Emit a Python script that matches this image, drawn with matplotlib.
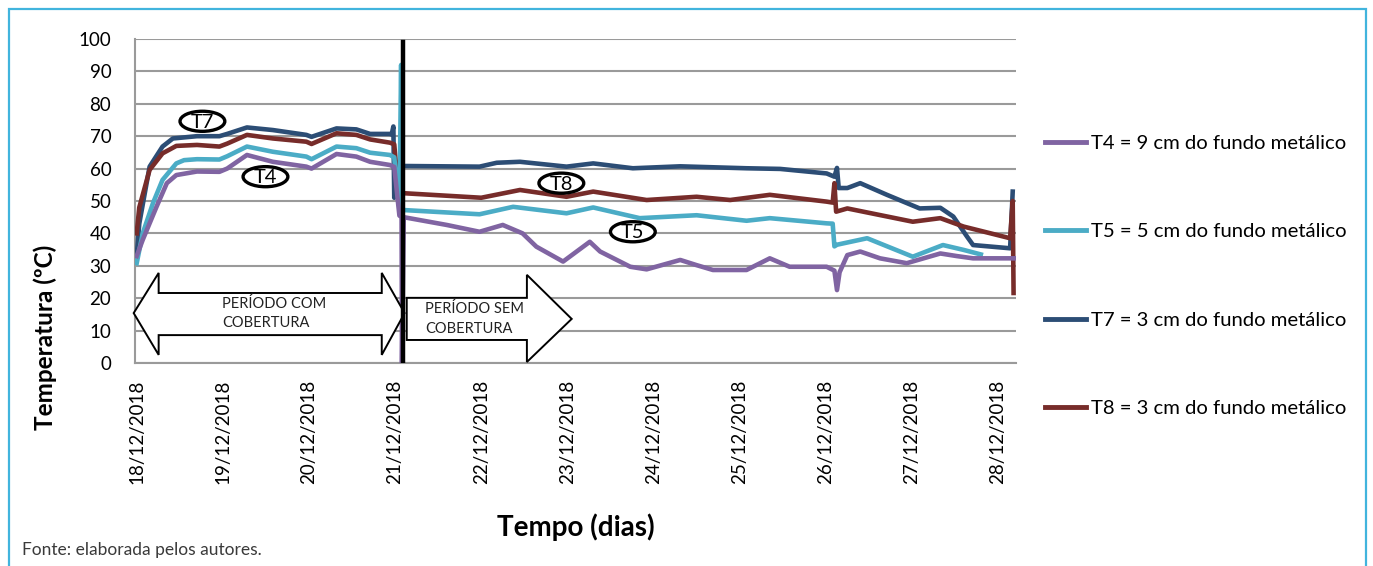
import matplotlib
matplotlib.use("Agg")
import matplotlib.pyplot as plt
from matplotlib.patches import Polygon, Ellipse, Rectangle
from matplotlib.lines import Line2D

plt.rcParams["font.family"] = ["Lato", "DejaVu Sans"]

# time in days of December 2018, values in degC
t4_day = [18.0, 18.07, 18.23, 18.35, 18.46, 18.70, 18.96, 19.05, 19.28, 19.58, 19.97, 20.03,
          20.32, 20.55, 20.71, 20.94, 20.99, 21.05, 21.075, 21.08, 21.10, 21.6, 21.98, 22.25,
          22.48, 22.64, 22.95, 23.26, 23.38, 23.73, 23.92, 24.31, 24.5, 24.69, 25.08, 25.35,
          25.58, 26.01, 26.10, 26.13, 26.16, 26.25, 26.40, 26.63, 26.94, 27.33, 27.52, 27.71, 28.19]
t4_val = [33, 38, 48.2, 55.5, 58, 59.1, 59, 60.0, 64.2, 62.1, 60.6, 60,
          64.5, 63.7, 62.1, 61.1, 60.5, 45.5, 45, 0, 45, 42.6, 40.5, 42.6,
          40.0, 35.9, 31.3, 37.4, 34.4, 29.7, 28.9, 31.8, 30.2, 28.7, 28.7, 32.3,
          29.7, 29.7, 28.5, 22.5, 28, 33.3, 34.4, 32.3, 30.8, 33.8, 33, 32.3, 32.3]

t5_day = [18.0, 18.07, 18.19, 18.30, 18.46, 18.55, 18.70, 18.96, 19.05, 19.28, 19.58, 19.97,
          20.03, 20.32, 20.55, 20.71, 20.94, 20.99, 21.05, 21.07, 21.08, 21.10, 21.98, 22.37,
          22.99, 23.30, 23.84, 24.5, 25.08, 25.35, 26.01, 26.08, 26.10, 26.13, 26.48, 27.01,
          27.36, 27.60, 27.80]
t5_val = [30.8, 40, 49.4, 56.5, 61.6, 62.6, 62.9, 62.8, 63.8, 66.8, 65.2, 63.7,
          62.9, 66.8, 66.3, 64.9, 64.2, 63.5, 47.5, 92, 47.2, 47.2, 45.9, 48.2,
          46.2, 48.0, 44.7, 45.6, 43.9, 44.7, 43.1, 43.0, 36, 36.5, 38.5, 32.8,
          36.4, 34.9, 33.5]

t7_day = [18.0, 18.03, 18.15, 18.30, 18.42, 18.70, 18.96, 19.05, 19.28, 19.58, 19.97, 20.03,
          20.32, 20.55, 20.71, 20.94, 20.96, 20.98, 20.99, 21.03, 21.10, 21.98, 22.18, 22.45,
          22.99, 23.30, 23.76, 24.31, 25.08, 25.47, 26.01, 26.10, 26.13, 26.15, 26.25, 26.40,
          26.71, 27.09, 27.33, 27.48, 27.64, 27.71, 28.14, 28.17]
t7_val = [33, 43, 60.6, 66.8, 69.3, 70.0, 70, 70.7, 72.7, 71.9, 70.4, 69.8,
          72.4, 72.1, 70.7, 70.7, 70.5, 73, 51, 61, 60.8, 60.6, 61.8, 62.1,
          60.6, 61.6, 60.1, 60.7, 60.1, 59.9, 58.5, 57.5, 60.2, 54, 54, 55.5,
          51.9, 47.7, 47.9, 45.2, 39.0, 36.4, 35.4, 52.9]

t8_day = [18.0, 18.03, 18.15, 18.30, 18.46, 18.70, 18.96, 19.05, 19.28, 19.58, 19.97, 20.03,
          20.32, 20.55, 20.71, 20.94, 20.99, 21.04, 21.10, 22.0, 22.45, 22.99, 23.30, 23.92,
          24.5, 24.89, 25.35, 26.01, 26.08, 26.10, 26.12, 26.25, 27.01, 27.33, 27.60, 28.14,
          28.17, 28.18]
t8_val = [40, 48, 59.6, 64.7, 67, 67.3, 66.8, 67.7, 70.4, 69.3, 68.3, 67.6,
          70.9, 70.4, 69.0, 68.0, 67.5, 52.5, 52.4, 51.0, 53.4, 51.3, 52.9, 50.3,
          51.3, 50.3, 51.9, 49.8, 49.5, 55.5, 46.7, 47.7, 43.6, 44.7, 42.1, 38.5,
          50, 21.6]

series_labels = ["T4 = 9 cm do fundo metálico", "T5 = 5 cm do fundo metálico",
                 "T7 = 3 cm do fundo metálico", "T8 = 3 cm do fundo metálico"]
series_colors = ["#8064A2", "#4BACC6", "#2C4D75", "#772C2A"]

tick_days = list(range(18, 29))
tick_labels = [f"{d}/12/2018" for d in tick_days]
cover_removed_day = 21.09

fig = plt.figure(figsize=(13.73, 5.66), dpi=100)
ax = fig.add_axes([0.0983, 0.3587, 0.6418, 0.5724])

# draw order: T7, T8, T5, T4 on top
data = [(t4_day, t4_val), (t5_day, t5_val), (t7_day, t7_val), (t8_day, t8_val)]
for i in [2, 3, 1, 0]:
    ax.plot(data[i][0], data[i][1], color=series_colors[i], lw=3.3,
            solid_joinstyle="round", zorder=3)

ax.plot([cover_removed_day, cover_removed_day], [0, 99], color="black", lw=3.2, zorder=5)

ax.set_xlim(17.98, 28.21)
ax.set_ylim(0, 100)
ax.set_yticks(range(0, 101, 10))
ax.set_xticks(tick_days)
ax.set_xticklabels(tick_labels, rotation=90)
ax.tick_params(axis="both", length=0, labelsize=13.5)
ax.tick_params(axis="y", pad=17)
ax.tick_params(axis="x", pad=12)
ax.grid(axis="y", color="#9a9a9a", lw=1.5)
ax.set_axisbelow(True)
for s in ["top", "right"]:
    ax.spines[s].set_visible(False)
for s in ["left", "bottom"]:
    ax.spines[s].set_color("#9a9a9a")
    ax.spines[s].set_linewidth(1.5)

ax.set_ylabel("Temperatura (ºC)", fontsize=17.5, fontweight="bold")
ax.yaxis.set_label_coords(-0.088, 0.080)
ax.set_xlabel("Tempo (dias)", fontsize=20, fontweight="bold")
ax.xaxis.set_label_coords(0.5006, -0.463)

# period arrows
left_arrow = [(17.965, 15.4), (18.255, 27.8), (18.255, 21.6), (20.845, 21.6), (20.845, 27.8),
              (21.11, 15.4), (20.845, 2.5), (20.845, 8.6), (18.255, 8.6), (18.255, 2.5)]
ax.add_patch(Polygon(left_arrow, closed=True, fc="white", ec="black", lw=1.4,
                     zorder=4, clip_on=False))
right_arrow = [(21.135, 20.1), (22.53, 20.1), (22.53, 27.2), (23.05, 13.6), (22.53, 0.3),
               (22.53, 7.1), (21.135, 7.1)]
ax.add_patch(Polygon(right_arrow, closed=True, fc="white", ec="black", lw=1.4, zorder=4))
ax.text(18.99, 15.4, "PERÍODO COM\nCOBERTURA", fontsize=10.5, va="center", ha="left",
        linespacing=1.5, color="#222222", zorder=6)
ax.text(21.345, 13.6, "PERÍODO SEM\nCOBERTURA", fontsize=10.5, va="center", ha="left",
        linespacing=1.5, color="#222222", zorder=6)

# series tags
for name, x, y in [("T7", 18.763, 74.6), ("T4", 19.495, 57.5), ("T8", 22.93, 55.5), ("T5", 23.76, 40.5)]:
    ax.add_patch(Ellipse((x, y), 0.52, 6.2, fc="white", ec="black", lw=2.4, zorder=6))
    ax.text(x, y - 0.3, name, fontsize=14.5, ha="center", va="center", zorder=7)

handles = [Line2D([], [], color=c, lw=3.5) for c in series_colors]
fig.legend(handles, series_labels, loc="upper left", bbox_to_anchor=(0.748, 0.7935),
           frameon=False, fontsize=14.6, labelspacing=3.5, handlelength=2.0,
           handletextpad=0.25)

fig.text(0.016, 0.020, "Fonte: elaborada pelos autores.", fontsize=12.5, color="#3a3a3a")

# outer frame
fig.patches.append(Rectangle((9 / 1373, -0.05), 1357 / 1373, 1.05 - 9 / 566,
                             transform=fig.transFigure, fill=False, ec="#41b4dd", lw=1.6))

fig.savefig("out.png", dpi=100)
